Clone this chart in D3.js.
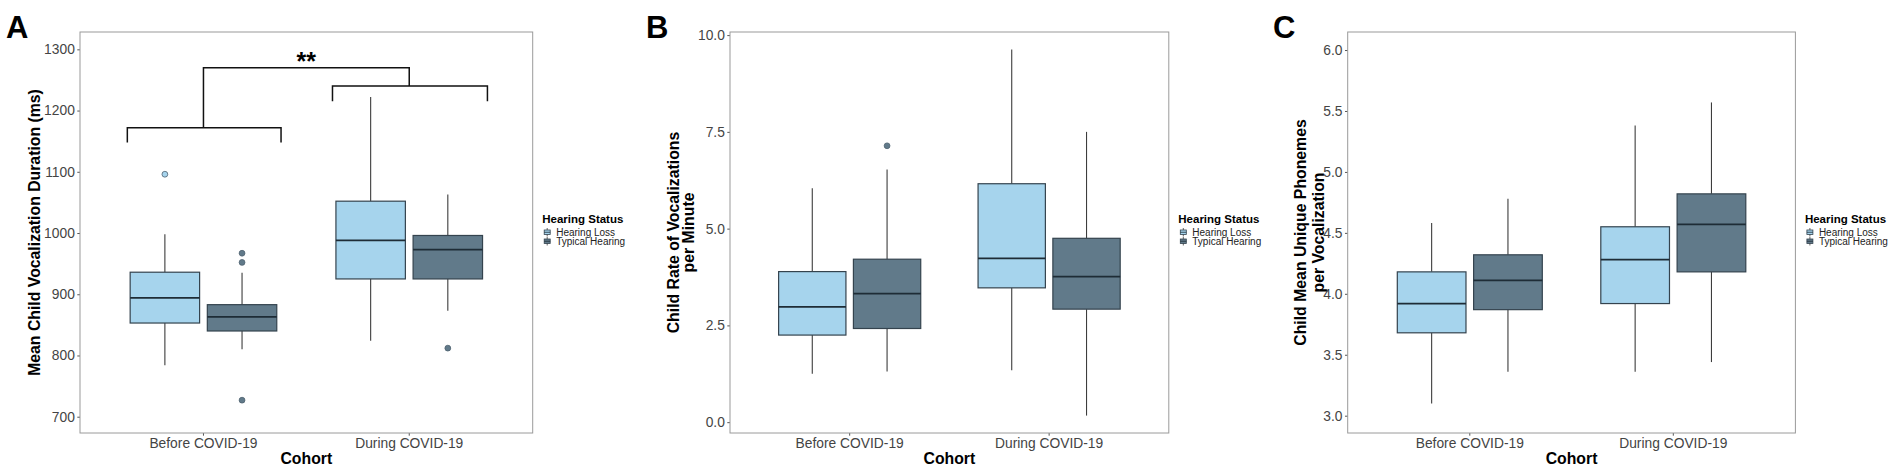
<!DOCTYPE html>
<html>
<head>
<meta charset="utf-8">
<script src="https://cdn.jsdelivr.net/npm/d3@7"></script>
<style>
  body { margin: 0; background: #fff; }
  text { font-family: "Liberation Sans", Arial, Helvetica, sans-serif; }
</style>
</head>
<body>
<div id="chart"></div>
<script>
// categories
const cohorts = ["Before COVID-19", "During COVID-19"];
const groups = ["Hearing Loss", "Typical Hearing"];
const groupColors = ["#a6d4ed", "#617a8a"];

// box stats: [lower whisker, q1, median, q3, upper whisker]
const durationStats = [
  { cohort: "Before COVID-19", group: "Hearing Loss", s: [784, 853, 894, 936, 998], out: [1096] },
  { cohort: "Before COVID-19", group: "Typical Hearing", s: [810, 840, 863, 883, 935], out: [967, 952, 727] },
  { cohort: "During COVID-19", group: "Hearing Loss", s: [824, 925, 988, 1052, 1222], out: [] },
  { cohort: "During COVID-19", group: "Typical Hearing", s: [873, 925, 973, 996, 1063], out: [812] }
];
const rateStats = [
  { cohort: "Before COVID-19", group: "Hearing Loss", s: [1.25, 2.25, 2.98, 3.89, 6.04], out: [] },
  { cohort: "Before COVID-19", group: "Typical Hearing", s: [1.31, 2.42, 3.32, 4.21, 6.53], out: [7.14] },
  { cohort: "During COVID-19", group: "Hearing Loss", s: [1.34, 3.47, 4.23, 6.16, 9.63], out: [] },
  { cohort: "During COVID-19", group: "Typical Hearing", s: [0.17, 2.92, 3.76, 4.75, 7.5], out: [] }
];
const phonemeStats = [
  { cohort: "Before COVID-19", group: "Hearing Loss", s: [3.10, 3.68, 3.92, 4.18, 4.58], out: [] },
  { cohort: "Before COVID-19", group: "Typical Hearing", s: [3.36, 3.87, 4.11, 4.32, 4.78], out: [] },
  { cohort: "During COVID-19", group: "Hearing Loss", s: [3.36, 3.92, 4.28, 4.55, 5.38], out: [] },
  { cohort: "During COVID-19", group: "Typical Hearing", s: [3.44, 4.18, 4.57, 4.82, 5.57], out: [] }
];

// tick labels
const durationTicks = [700, 800, 900, 1000, 1100, 1200, 1300];
const rateTicks = [0, 2.5, 5, 7.5, 10];
const phonemeTicks = [3, 3.5, 4, 4.5, 5, 5.5, 6];

// significance brackets in panel A (x in cohort units, y in ms)
const brackets = [
  { x1: 0.63, x2: 1.377, y: 1172, drop: 1148 },
  { x1: 1.627, x2: 2.38, y: 1240, drop: 1215 }
];
const bracketTop = { x1: 1, x2: 2, y: 1270 };
const sigLabel = { x: 1.5, y: 1291, text: "**" };

const svg = d3.select("#chart").append("svg")
    .attr("width", 1904)
    .attr("height", 467);

const panels = [
  { letter: "A", letterX: 6, left: 80, right: 532.7, domain: [673.4, 1328.3],
    ticks: durationTicks, fmt: d3.format("d"), data: durationStats,
    title: ["Mean Child Vocalization Duration (ms)"], titleX: [34] },
  { letter: "B", letterX: 646, left: 730, right: 1168.8, domain: [-0.28, 10.08],
    ticks: rateTicks, fmt: d3.format(".1f"), data: rateStats,
    title: ["Child Rate of Vocalizations", "per Minute"], titleX: [673, 688] },
  { letter: "C", letterX: 1273, left: 1347.7, right: 1795.4, domain: [2.858, 6.148],
    ticks: phonemeTicks, fmt: d3.format(".1f"), data: phonemeStats,
    title: ["Child Mean Unique Phonemes", "per Vocalization"], titleX: [1300, 1318] }
];

const plotTop = 32, plotBottom = 433;

panels.forEach((p, pi) => {
  const g = svg.append("g");

  const yScale = d3.scaleLinear().domain(p.domain).range([plotBottom, plotTop]);

  // cohort bands, dodge width 0.75 of a step, expansion 0.6 on each side
  const xBand = d3.scaleBand().domain(cohorts).range([p.left, p.right])
      .paddingInner(0.25).paddingOuter(0.225);
  const xGroup = d3.scaleBand().domain(groups).range([0, xBand.bandwidth()])
      .paddingInner(0.1).paddingOuter(0.05);
  const xUnit = d3.scaleLinear().domain([0.4, 2.6]).range([p.left, p.right]);
  const color = d3.scaleOrdinal().domain(groups).range(groupColors);

  // y axis
  const yAxis = g.append("g")
      .attr("transform", "translate(" + p.left + ",0)")
      .call(d3.axisLeft(yScale).tickValues(p.ticks).tickFormat(p.fmt).tickSize(2.7).tickPadding(2.5));
  yAxis.select(".domain").remove();
  yAxis.selectAll("line").attr("stroke", "#555");
  yAxis.selectAll("text").attr("fill", "#444").style("font-size", "13.8px")
      .style("font-family", "'Liberation Sans', Arial, sans-serif");

  // x axis
  const xAxis = g.append("g")
      .attr("transform", "translate(0," + plotBottom + ")")
      .call(d3.axisBottom(xBand).tickSize(2.7).tickPadding(2.5));
  xAxis.select(".domain").remove();
  xAxis.selectAll("line").attr("stroke", "#555");
  xAxis.selectAll("text").attr("fill", "#444").style("font-size", "13.8px")
      .style("font-family", "'Liberation Sans', Arial, sans-serif");

  // panel border
  g.append("rect")
      .attr("x", p.left).attr("y", plotTop)
      .attr("width", p.right - p.left).attr("height", plotBottom - plotTop)
      .attr("fill", "none").attr("stroke", "#9a9a9a").attr("stroke-width", 1);

  // boxes
  const boxes = g.selectAll(".box")
      .data(p.data)
      .enter()
      .append("g")
      .attr("class", "box")
      .attr("transform", d => "translate(" + (xBand(d.cohort) + xGroup(d.group)) + ",0)");

  const bw = xGroup.bandwidth();

  boxes.append("line")
      .attr("x1", bw / 2).attr("x2", bw / 2)
      .attr("y1", d => yScale(d.s[0])).attr("y2", d => yScale(d.s[1]))
      .attr("stroke", "#3d3d3d").attr("stroke-width", 1.1);
  boxes.append("line")
      .attr("x1", bw / 2).attr("x2", bw / 2)
      .attr("y1", d => yScale(d.s[3])).attr("y2", d => yScale(d.s[4]))
      .attr("stroke", "#3d3d3d").attr("stroke-width", 1.1);

  boxes.append("rect")
      .attr("x", 0).attr("width", bw)
      .attr("y", d => yScale(d.s[3]))
      .attr("height", d => yScale(d.s[1]) - yScale(d.s[3]))
      .attr("fill", d => color(d.group))
      .attr("stroke", "#34434e").attr("stroke-width", 1.2);

  boxes.append("line")
      .attr("x1", 0).attr("x2", bw)
      .attr("y1", d => yScale(d.s[2])).attr("y2", d => yScale(d.s[2]))
      .attr("stroke", "#1e2c36").attr("stroke-width", 1.8);

  boxes.selectAll(".outlier")
      .data(d => d.out.map(v => ({ v: v, group: d.group })))
      .enter()
      .append("circle")
      .attr("class", "outlier")
      .attr("cx", bw / 2)
      .attr("cy", d => yScale(d.v))
      .attr("r", 2.9)
      .attr("fill", d => color(d.group))
      .attr("stroke", "#4f6270").attr("stroke-width", 0.8);

  // significance brackets (panel A only)
  if (pi === 0) {
    const line = d3.line();
    brackets.forEach(b => {
      g.append("path")
          .attr("d", line([[xUnit(b.x1), yScale(b.drop)], [xUnit(b.x1), yScale(b.y)],
                           [xUnit(b.x2), yScale(b.y)], [xUnit(b.x2), yScale(b.drop)]]))
          .attr("fill", "none").attr("stroke", "#111").attr("stroke-width", 1.5);
    });
    g.append("path")
        .attr("d", line([[xUnit(bracketTop.x1), yScale(brackets[0].y)], [xUnit(bracketTop.x1), yScale(bracketTop.y)],
                         [xUnit(bracketTop.x2), yScale(bracketTop.y)], [xUnit(bracketTop.x2), yScale(brackets[1].y)]]))
        .attr("fill", "none").attr("stroke", "#111").attr("stroke-width", 1.5);
    g.append("text")
        .attr("x", xUnit(sigLabel.x))
        .attr("y", yScale(sigLabel.y))
        .attr("dy", "0.62em")
        .attr("text-anchor", "middle")
        .style("font-size", "25px").style("font-weight", "bold")
        .text(sigLabel.text);
  }

  // panel letter
  g.append("text")
      .attr("x", p.letterX).attr("y", 38)
      .style("font-size", "31px").style("font-weight", "bold")
      .text(p.letter);

  // y title
  p.title.forEach((t, i) => {
    g.append("text")
        .attr("transform", "translate(" + p.titleX[i] + "," + ((plotTop + plotBottom) / 2) + ") rotate(-90)")
        .attr("dy", "0.35em")
        .attr("text-anchor", "middle")
        .style("font-size", "15.8px").style("font-weight", "bold")
        .text(t);
  });

  // x title
  g.append("text")
      .attr("x", (p.left + p.right) / 2).attr("y", 463.5)
      .attr("text-anchor", "middle")
      .style("font-size", "15.8px").style("font-weight", "bold")
      .text("Cohort");

  // legend
  const lx = p.right + 9.5;
  const legend = g.append("g").attr("transform", "translate(" + lx + ",0)");
  legend.append("text")
      .attr("x", 0).attr("y", 222.5)
      .style("font-size", "11.5px").style("font-weight", "bold")
      .text("Hearing Status");

  const items = legend.selectAll(".item")
      .data(groups)
      .enter()
      .append("g")
      .attr("class", "item")
      .attr("transform", (d, i) => "translate(0," + (236 + i * 9) + ")");
  items.append("line")
      .attr("x1", 5).attr("x2", 5).attr("y1", -8).attr("y2", 0.5)
      .attr("stroke", "#3d3d3d").attr("stroke-width", 0.8);
  items.append("rect")
      .attr("x", 2).attr("y", -6).attr("width", 6).attr("height", 4.5)
      .attr("fill", d => color(d))
      .attr("stroke", "#34434e").attr("stroke-width", 0.8);
  items.append("line")
      .attr("x1", 2).attr("x2", 8).attr("y1", -3.75).attr("y2", -3.75)
      .attr("stroke", "#1e2c36").attr("stroke-width", 0.8);
  items.append("text")
      .attr("x", 14).attr("y", 0)
      .style("font-size", "10px")
      .attr("fill", "#222")
      .text(d => d);
});
</script>
</body>
</html>
